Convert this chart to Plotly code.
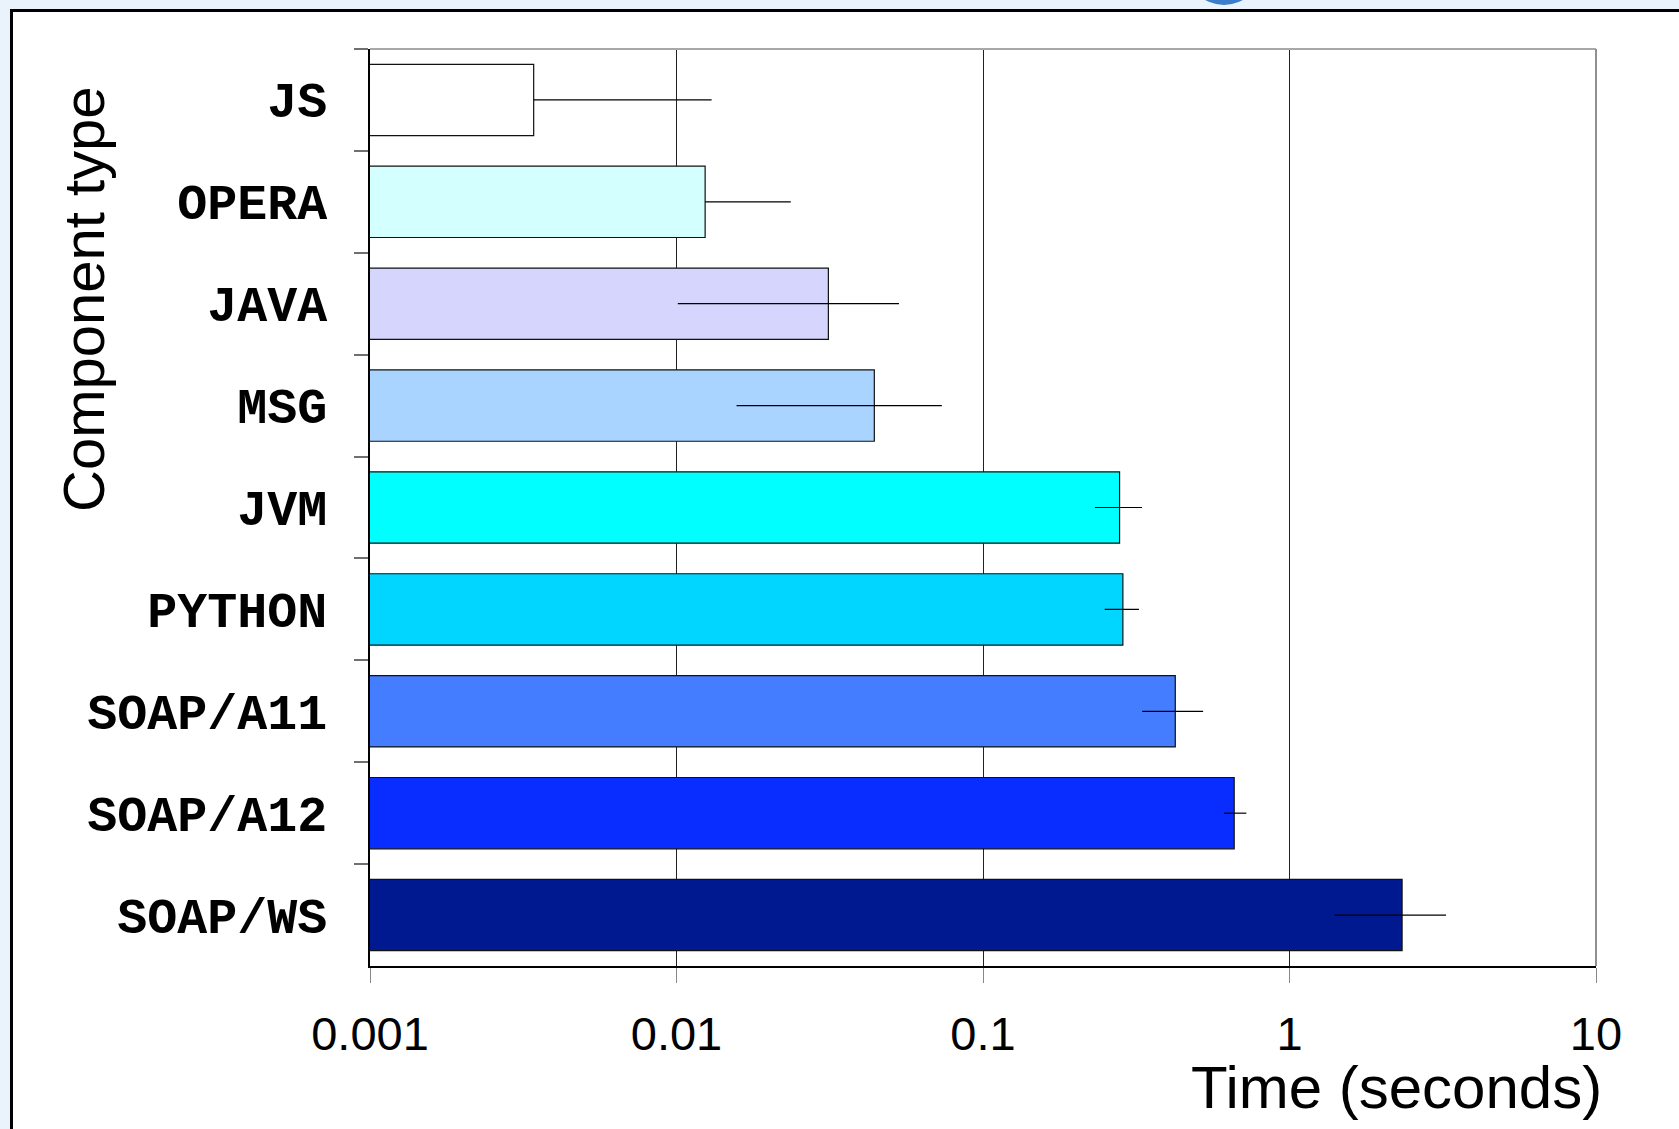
import plotly.graph_objects as go

# ---------------- data ----------------
categories = ["JS", "OPERA", "JAVA", "MSG", "JVM", "PYTHON", "SOAP/A11", "SOAP/A12", "SOAP/WS"]
times = [0.00342, 0.0124, 0.0313, 0.0442, 0.279, 0.286, 0.424, 0.660, 2.33]
err_plus = [0.0096, 0.0112, 0.0219, 0.0292, 0.0513, 0.0367, 0.0986, 0.0630, 0.912]
err_minus = [0.0, 0.0, 0.0212, 0.0285, 0.0472, 0.0366, 0.0934, 0.0480, 0.927]
bar_colors = ["#FFFFFF", "#D4FFFF", "#D5D5FD", "#A8D4FF", "#00FFFF",
              "#00D6FF", "#447DFF", "#0A2DFF", "#001890"]
tick_values = [0.001, 0.01, 0.1, 1, 10]
tick_labels = ["0.001", "0.01", "0.1", "1", "10"]
x_title = "Time (seconds)"
y_title = "Component type"

# ---------------- layout constants ----------------
W, H = 1679, 1129
L, R, T, B = 370, 83, 49, 163
PW, PH = W - L - R, H - T - B


def px(x):
    return (x - L) / PW


def py(y):
    return (H - B - y) / PH


fig = go.Figure()
fig.add_trace(go.Bar(
    y=categories, x=times, orientation="h",
    marker=dict(color=bar_colors, line=dict(color="#111111", width=1.2)),
    error_x=dict(type="data", symmetric=False, array=err_plus, arrayminus=err_minus,
                 color="black", thickness=1.2, width=0),
    showlegend=False,
))

shapes = [
    # slide frame
    dict(type="rect", xref="paper", yref="paper", layer="below",
         x0=px(11.5), x1=px(1720), y0=py(10.5), y1=py(1160),
         fillcolor="white", line=dict(color="black", width=3)),
    # blue blob (bottom of a title letter)
    dict(type="circle", xref="paper", yref="paper", layer="below",
         x0=px(1186), x1=px(1262), y0=py(5), y1=py(-71),
         fillcolor="#3B7DC9", line=dict(width=0)),
    # gray top and right borders of the plot
    dict(type="line", xref="paper", yref="paper", x0=0, x1=1, y0=1, y1=1,
         line=dict(color="#A8A8A8", width=2)),
    dict(type="line", xref="paper", yref="paper", x0=1, x1=1, y0=0, y1=1,
         line=dict(color="#909090", width=2)),
]

annotations = [
    dict(text=x_title, xref="paper", yref="paper", x=px(1604), y=py(1087),
         xanchor="right", yanchor="middle", showarrow=False,
         font=dict(family="Liberation Sans, Arial", size=60, color="black")),
    dict(text=y_title, xref="paper", yref="paper", x=px(83), y=py(299),
         xanchor="center", yanchor="middle", textangle=-90, showarrow=False,
         font=dict(family="Liberation Sans, Arial", size=58, color="black")),
]

fig.update_layout(
    width=W, height=H,
    margin=dict(l=L, r=R, t=T, b=B, pad=0),
    paper_bgcolor="#EAF3FB",
    plot_bgcolor="white",
    bargap=0.30,
    shapes=shapes,
    annotations=annotations,
    xaxis=dict(
        type="log", range=[-3, 1],
        tickvals=tick_values, ticktext=tick_labels,
        showgrid=True, gridcolor="#222222", gridwidth=1,
        ticks="outside", ticklen=15, tickcolor="#888888", tickwidth=1,
        showline=True, linecolor="black", linewidth=1.5,
        zeroline=False,
        tickfont=dict(family="Liberation Sans, Arial", size=47, color="black"),
        ticklabelstandoff=11,
    ),
    yaxis=dict(
        type="category", autorange="reversed",
        tickson="boundaries",
        ticks="outside", ticklen=14, tickcolor="#707070", tickwidth=2,
        showline=True, linecolor="black", linewidth=1.5,
        showgrid=False, zeroline=False,
        tickfont=dict(family="Liberation Mono, Courier New, monospace", size=50,
                      color="black", weight="bold"),
        ticklabelstandoff=31,
    ),
)

fig.write_html("out.html", config={"displayModeBar": False},
               post_script="document.body.style.margin='0';")
